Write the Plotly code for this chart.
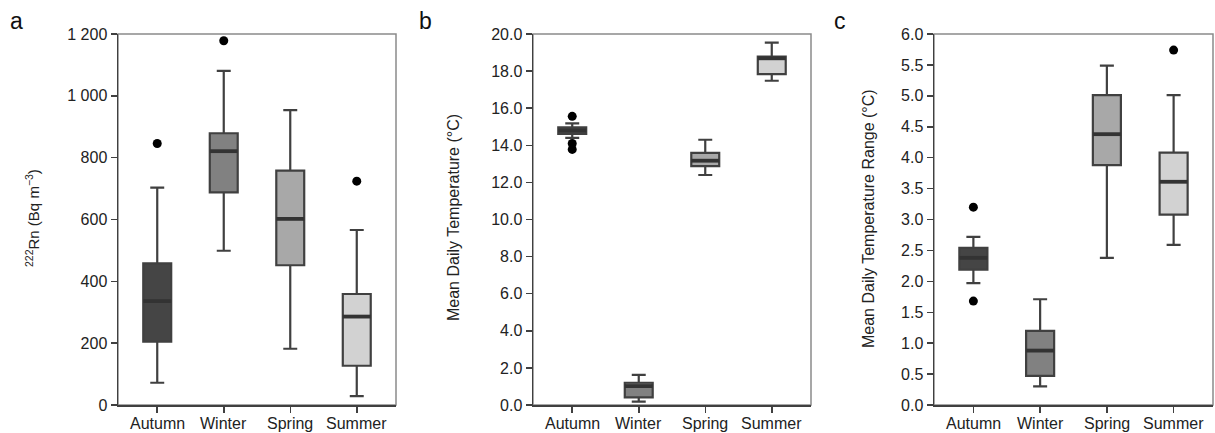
import plotly.graph_objects as go

W, H = 1215, 433

categories = ["Autumn", "Winter", "Spring", "Summer"]
fill_colors = ["#454545", "#818181", "#a8a8a8", "#d2d2d2"]

# Panel a: 222Rn (Bq m-3)
rn_low = [72, 499, 182, 29]
rn_q1 = [205, 688, 452, 127]
rn_med = [336, 821, 602, 286]
rn_q3 = [458, 879, 758, 359]
rn_high = [703, 1081, 954, 566]
rn_out_cat = [0, 1, 3]
rn_out_val = [846, 1178, 724]
rn_ticks = [0, 200, 400, 600, 800, 1000, 1200]
rn_ticktext = ["0", "200", "400", "600", "800", "1 000", "1 200"]

# Panel b: Mean daily temperature (°C)
t_low = [14.40, 0.18, 12.40, 17.48]
t_q1 = [14.61, 0.41, 12.88, 17.84]
t_med = [14.80, 1.02, 13.17, 18.69]
t_q3 = [14.97, 1.20, 13.59, 18.78]
t_high = [15.18, 1.62, 14.30, 19.53]
t_out_cat = [0, 0, 0]
t_out_val = [15.56, 14.10, 13.78]

# Panel c: Mean daily temperature range (°C)
r_low = [1.97, 0.30, 2.38, 2.59]
r_q1 = [2.19, 0.47, 3.88, 3.08]
r_med = [2.38, 0.88, 4.38, 3.61]
r_q3 = [2.54, 1.20, 5.01, 4.08]
r_high = [2.72, 1.71, 5.49, 5.01]
r_out_cat = [0, 0, 3]
r_out_val = [3.20, 1.68, 5.74]

panels = [
    dict(low=rn_low, q1=rn_q1, med=rn_med, q3=rn_q3, high=rn_high,
         oc=rn_out_cat, ov=rn_out_val, yr=[0, 1200]),
    dict(low=t_low, q1=t_q1, med=t_med, q3=t_q3, high=t_high,
         oc=t_out_cat, ov=t_out_val, yr=[0, 20]),
    dict(low=r_low, q1=r_q1, med=r_med, q3=r_q3, high=r_high,
         oc=r_out_cat, ov=r_out_val, yr=[0, 6]),
]

# layout geometry (pixels)
px_x = [(118, 396), (533, 811), (934, 1213)]
px_y = (34, 405)
ydom = [(H - px_y[1]) / H, (H - px_y[0]) / H]

FONT = "Liberation Sans, Arial, sans-serif"
AX = "#404040"
TXT = "#222222"
BOXW = 0.42
TICKFS = 16

fig = go.Figure()
layout = dict(
    template="none",
    width=W, height=H,
    margin=dict(l=0, r=0, t=0, b=0, pad=0),
    paper_bgcolor="white", plot_bgcolor="white",
    showlegend=False,
    font=dict(family=FONT, size=TICKFS, color=TXT),
)

shapes = []
annotations = []
for k, p in enumerate(panels):
    xa = "x" if k == 0 else f"x{k+1}"
    ya = "y" if k == 0 else f"y{k+1}"
    for i, c in enumerate(categories):
        fig.add_trace(go.Box(
            x=[i], q1=[p["q1"][i]], median=[p["med"][i]], q3=[p["q3"][i]],
            lowerfence=[p["low"][i]], upperfence=[p["high"][i]],
            width=BOXW, fillcolor=fill_colors[i],
            line=dict(color=AX, width=2.2), boxpoints=False,
            xaxis=xa, yaxis=ya, hoverinfo="skip",
        ))
        fig.add_trace(go.Scatter(
            x=[i - BOXW / 2, i + BOXW / 2], y=[p["med"][i], p["med"][i]],
            mode="lines", line=dict(color="#333333", width=3.8),
            xaxis=xa, yaxis=ya, hoverinfo="skip",
        ))
        # category label below the axis
        annotations.append(dict(
            text=c, x=i, xref=xa, y=(H - 423) / H, yref="paper",
            showarrow=False, xanchor="center", yanchor="middle",
            font=dict(size=TICKFS, family=FONT, color=TXT),
        ))
    fig.add_trace(go.Scatter(
        x=p["oc"], y=p["ov"], mode="markers",
        marker=dict(color="black", size=9),
        xaxis=xa, yaxis=ya, hoverinfo="skip",
    ))
    x0, x1 = px_x[k]
    xkey = "xaxis" if k == 0 else f"xaxis{k+1}"
    ykey = "yaxis" if k == 0 else f"yaxis{k+1}"
    layout[xkey] = dict(
        domain=[x0 / W, x1 / W], anchor=ya, range=[-0.59, 3.59],
        tickvals=list(range(len(categories))), showticklabels=False,
        ticks="outside", ticklen=6, tickwidth=1.5, tickcolor=AX,
        showline=True, linecolor=AX, linewidth=1.5, automargin=False,
        showgrid=False, zeroline=False, fixedrange=True,
    )
    ydict = dict(
        domain=ydom, anchor=xa, range=p["yr"],
        ticks="outside", ticklen=6, tickwidth=1.5, tickcolor=AX,
        showline=True, linecolor=AX, linewidth=1.5, automargin=False,
        showgrid=False, zeroline=False, fixedrange=True,
        tickfont=dict(size=TICKFS, family=FONT, color=TXT),
    )
    if k == 0:
        ydict.update(tickvals=rn_ticks, ticktext=rn_ticktext)
    elif k == 1:
        ydict.update(dtick=2, tickformat=".1f", tick0=0)
    else:
        ydict.update(dtick=0.5, tickformat=".1f", tick0=0)
    layout[ykey] = ydict
    shapes.append(dict(
        type="rect", xref=f"{xa} domain", yref=f"{ya} domain",
        x0=0, x1=1, y0=0, y1=1, line=dict(color="#8a8a8a", width=1.5),
        layer="below",
    ))

titles = [
    ("<sup>222</sup>Rn (Bq m<sup>−3</sup>)", 32, 15),
    ("Mean Daily Temperature (°C)", 453, 16),
    ("Mean Daily Temperature Range (°C)", 868, 16),
]
for txt, xc, fs in titles:
    annotations.append(dict(
        text=txt, x=xc / W, y=(H - 218) / H, xref="paper", yref="paper",
        textangle=-90, showarrow=False, xanchor="center", yanchor="middle",
        font=dict(size=fs, family=FONT, color=TXT),
    ))
for lab, xc in [("a", 16), ("b", 425), ("c", 840)]:
    annotations.append(dict(
        text=lab, x=xc / W, y=(H - 21) / H, xref="paper", yref="paper",
        showarrow=False, xanchor="center", yanchor="middle",
        font=dict(size=23, family=FONT, color="#111111"),
    ))

layout["shapes"] = shapes
layout["annotations"] = annotations
fig.update_layout(**layout)
fig.write_html(
    "out.html",
    config={"displayModeBar": False, "staticPlot": True},
    post_script="document.body.style.margin='0';document.body.style.overflow='hidden';",
)
